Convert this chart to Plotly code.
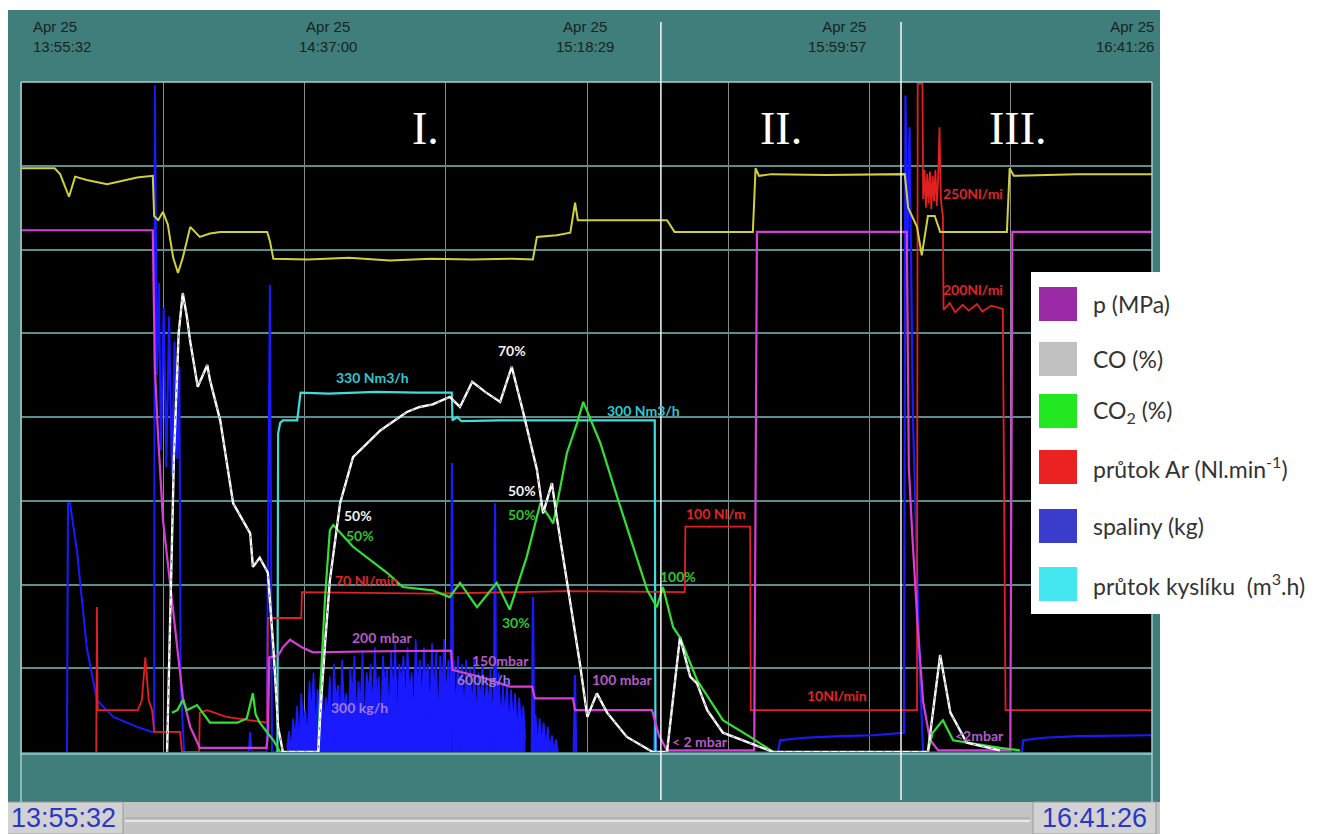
import numpy as np
import plotly.graph_objects as go

# ---------------- DATA (time in minutes since 13:55:32, value in chart divisions 0..8) ----------------
T_END = 165.9  # 13:55:32 -> 16:41:26

time_labels = ["13:55:32", "14:37:00", "15:18:29", "15:59:57", "16:41:26"]
date_label = "Apr 25"
phase_names = ["I.", "II.", "III."]
phase_t = [59.3, 111.4, 146.1]
divider_t = [93.8, 129.05]

yellow_t = [0, 4.8, 5.6, 6.9, 7.8, 9.5, 12.5, 16.9, 19.2, 19.4, 20.0, 20.7, 21.4, 22.2, 22.9, 23.6, 24.7, 25.6,
            26.1, 27.6, 29.1, 36.0, 36.4, 36.9, 42.0, 48.0, 54.0, 60.0, 66.0, 72.0, 75.0, 75.6, 78.5, 80.5, 81.2,
            81.6, 82.5, 94.7, 95.8, 107.3, 107.7, 108.2, 110.0, 118.0, 129.6, 130.1, 131.4, 132.1, 133.0, 134.0,
            134.8, 144.6, 145.0, 145.6, 155.0, 165.9]
yellow_v = [6.97, 6.97, 6.90, 6.63, 6.87, 6.83, 6.78, 6.86, 6.88, 6.40, 6.35, 6.45, 6.30, 5.90, 5.72, 5.90, 6.27,
            6.20, 6.15, 6.19, 6.21, 6.21, 6.10, 5.89, 5.88, 5.90, 5.87, 5.89, 5.88, 5.89, 5.88, 6.15, 6.17, 6.20,
            6.56, 6.35, 6.35, 6.35, 6.21, 6.21, 6.97, 6.88, 6.90, 6.89, 6.90, 6.50, 6.27, 5.93, 6.40, 6.40, 6.21,
            6.21, 6.97, 6.88, 6.90, 6.90]

p_t = [0, 19.2, 19.5, 19.97, 20.7, 22.2, 23.6, 24.7, 26.1, 35.9, 36.1, 36.3, 37.6, 38.3, 39.35, 41.1, 42.7, 50.0,
       63.0, 63.2, 68.0, 71.6, 74.9, 75.3, 80.9, 81.2, 92.5, 93.5, 94.7, 107.5, 107.9, 129.9, 130.2, 130.7, 131.5,
       132.3, 133.3, 134.5, 145.1, 145.4, 165.9]
p_v = [6.23, 6.23, 4.60, 3.79, 2.77, 1.66, 0.66, 0.30, 0.05, 0.05, 0.20, 1.13, 1.15, 1.25, 1.34, 1.25, 1.19, 1.20,
       1.21, 0.98, 0.88, 0.78, 0.78, 0.64, 0.64, 0.50, 0.50, 0.20, 0.02, 0.02, 6.21, 6.21, 3.40, 2.60, 1.50, 0.60,
       0.15, 0.02, 0.02, 6.21, 6.21]

co_t = [21.3, 21.7, 22.3, 23.0, 23.6, 24.2, 24.7, 25.8, 27.2, 27.6, 29.1, 31.0, 33.5, 33.9, 34.9, 36.1, 36.9, 37.6,
        38.3, 43.5, 43.8, 44.5, 45.2, 46.7, 48.6, 52.6, 56.5, 58.4, 60.3, 62.8, 64.3, 66.1, 68.0, 70.2, 71.9, 73.6,
        75.6, 76.5, 77.8, 78.5, 80.0, 81.9, 83.0, 84.4, 85.9, 88.8, 92.6, 94.7, 96.6, 98.1, 99.1, 100.6, 102.9,
        106.9, 110.3, 133.0, 134.8, 136.3, 138.7, 143.6]
co_v = [0.0, 1.5, 3.5, 5.0, 5.48, 5.2, 4.9, 4.36, 4.62, 4.44, 3.96, 2.97, 2.61, 2.21, 2.32, 2.14, 1.25, 0.30, 0.0,
        0.0, 0.47, 1.30, 2.05, 2.97, 3.52, 3.84, 4.06, 4.12, 4.15, 4.24, 4.12, 4.42, 4.30, 4.18, 4.60, 4.05, 3.37,
        2.85, 3.21, 2.81, 2.05, 1.06, 0.42, 0.70, 0.47, 0.18, 0.0, 0.0, 1.37, 0.90, 0.82, 0.50, 0.23, 0.11, 0.0,
        0.0, 1.16, 0.47, 0.11, 0.02]

co2_t = [22.0, 22.8, 23.6, 24.2, 25.7, 27.6, 31.6, 33.0, 33.9, 34.3, 34.9, 36.9, 37.9, 43.5, 43.8, 44.5, 45.2, 45.7,
         48.6, 53.6, 55.9, 60.3, 62.8, 64.3, 66.8, 69.7, 71.6, 74.1, 76.1, 78.0, 80.0, 81.5, 82.4, 84.9, 87.4, 89.7,
         91.8, 93.2, 94.1, 95.6, 96.6, 99.1, 102.9, 106.9, 110.3, 133.0, 133.7, 135.2, 136.7, 143.6, 146.5]
co2_v = [0.47, 0.50, 0.62, 0.50, 0.56, 0.35, 0.35, 0.40, 0.70, 0.45, 0.35, 0.14, 0.0, 0.0, 0.78, 1.85, 2.65, 2.71,
         2.45, 2.14, 1.97, 1.93, 1.85, 2.02, 1.73, 2.02, 1.70, 2.33, 2.97, 2.73, 3.57, 3.93, 4.18, 3.69, 3.04, 2.45,
         1.93, 1.73, 1.97, 1.49, 1.37, 0.86, 0.38, 0.18, 0.0, 0.0, 0.23, 0.38, 0.14, 0.05, 0.02]

ar_t = [10.9, 11.0, 11.1, 17.0, 17.6, 18.1, 18.6, 19.1, 19.4, 23.2, 23.5, 26.0, 26.1, 27.2, 30.0, 36.0, 36.1, 41.0,
        41.1, 60.0, 80.0, 97.3, 97.4, 106.9, 107.0, 131.4, 131.5, 132.2,
        132.3, 132.5, 132.7, 132.9, 133.1, 133.3, 133.5, 133.7, 133.9, 134.1, 134.3, 134.5, 134.7, 134.9, 135.1,
        135.2, 135.3, 136.2, 137.0, 138.1, 139.0, 140.2, 141.0, 142.3, 144.0, 144.4, 165.9]
ar_v = [0.0, 1.73, 0.50, 0.50, 0.62, 1.13, 0.62, 0.50, 0.24, 0.24, 0.0, 0.0, 0.47, 0.50, 0.42, 0.35, 1.60, 1.60,
        1.91, 1.89, 1.92, 1.91, 2.69, 2.69, 0.50, 0.50, 7.98, 7.98,
        6.60, 6.95, 6.50, 6.90, 6.55, 6.93, 6.48, 6.88, 6.58, 6.95, 6.52, 6.85, 7.46, 6.60, 6.45,
        6.40, 5.28, 5.36, 5.25, 5.34, 5.27, 5.35, 5.26, 5.33, 5.29, 0.50, 0.50]

spal_t = [6.6, 6.75, 7.05, 8.1, 9.5, 11.0, 13.4, 16.9, 19.1, 19.4, 19.5, 19.8, 20.1, 20.4, 20.8, 21.2, 21.6, 22.0,
          22.4, 22.8, 23.1, 23.3, 23.8, 33.3, 33.5, 33.7, 35.9, 36.4, 36.7, 38.5]
spal_v = [0.0, 2.97, 2.97, 2.38, 1.25, 0.62, 0.42, 0.30, 0.24, 0.24, 7.96, 4.5, 5.6, 3.6, 5.3, 3.4, 5.2, 3.3, 4.9,
          3.5, 4.6, 0.8, 0.0, 0.0, 0.24, 0.0, 0.0, 5.58, 0.0, 0.0]
spal_late_t = [94.0, 111.0, 111.3, 115.0, 120.0, 125.0, 129.5, 129.7, 130.0, 130.3, 130.8, 131.3, 131.8, 132.3,
               146.8, 147.0, 150.0, 155.0, 165.9]
spal_late_v = [0.0, 0.0, 0.14, 0.17, 0.19, 0.20, 0.23, 7.84, 6.0, 7.46, 4.0, 2.5, 1.0, 0.0, 0.0, 0.14, 0.17, 0.19,
               0.20]
# dense sampled flue-gas signal ("300 kg/h", "600kg/h" and tail), sampled every 0.3 min
band1_start, band2_start, band3_start, band_step = 38.9, 63.4, 74.8, 0.3
band1_v = [0.05, 0.25, 0.0, 0.40, 0.15, 0.55, 0.05, 0.70, 0.30, 0.50,
           0.10, 0.85, 0.40, 0.95, 0.20, 0.75, 0.55, 1.00, 0.25, 0.65,
           0.45, 0.90, 0.10, 1.05, 0.60, 0.80, 0.35, 1.10, 0.50, 0.70,
           0.20, 1.00, 0.65, 1.15, 0.30, 0.85, 0.55, 1.20, 0.15, 0.95,
           0.70, 1.05, 0.40, 1.25, 0.60, 0.90, 0.25, 1.15, 0.75, 1.00,
           0.35, 1.20, 0.55, 1.30, 0.20, 1.05, 0.80, 1.15, 0.45, 1.25,
           0.65, 0.95, 0.30, 1.35, 0.70, 1.10, 0.50, 1.25, 0.85, 1.05,
           0.40, 1.30, 0.60, 1.20, 0.25, 1.15, 0.75, 1.35, 0.55, 1.10, 0.45]
band2_v = [1.10, 0.40, 1.15, 0.55, 1.05, 0.35, 1.10, 0.60, 1.00, 0.45, 1.10, 0.30, 0.95, 0.55, 1.05, 0.40, 0.90,
           0.50, 1.00, 0.35, 0.85, 0.45, 0.95, 0.30, 0.80, 0.40, 0.85, 0.25, 0.75, 0.35, 0.70, 0.20, 0.65, 0.30,
           0.55, 0.15]
band3_v = [0.50, 0.10, 0.45, 0.05, 0.40, 0.10, 0.35, 0.05, 0.30, 0.02, 0.20, 0.02, 0.15, 0.0]
spike_t = [63.13, 69.44, 75.02, 81.18, 92.93]
spike_h = [3.45, 2.97, 1.85, 0.92, 0.47]

ox_t = [37.5, 37.6, 37.9, 38.3, 40.4, 40.9, 45.0, 52.0, 58.0, 63.1, 63.2, 63.9, 64.5, 70.0, 80.0, 92.9, 93.0]
ox_v = [0.0, 3.80, 3.93, 3.96, 3.96, 4.29, 4.28, 4.30, 4.29, 4.29, 3.96, 4.00, 3.95, 3.96, 3.96, 3.96, 0.0]

# value labels: text, t, value, colour key
note_text = ["330 Nm3/h", "300 Nm3/h", "70%", "50%", "50%", "50%", "50%", "70 Nl/min", "30%", "100%",
             "100 Nl/m", "200 mbar", "150mbar", "600kg/h", "300 kg/h", "100 mbar", "< 2 mbar", "10Nl/min",
             "250Nl/mi", "200Nl/mi", "<2mbar"]
note_t = [51.5, 91.2, 71.9, 49.3, 49.6, 73.4, 73.4, 50.6, 72.5, 96.3, 101.9, 52.9, 70.2, 67.8, 49.5, 88.1, 99.5,
          119.7, 139.6, 139.6, 140.6]
note_v = [4.47, 4.08, 4.80, 2.82, 2.58, 3.12, 2.84, 2.05, 1.55, 2.09, 2.85, 1.37, 1.09, 0.86, 0.53, 0.86, 0.12,
          0.68, 6.67, 5.52, 0.20]
note_kind = ["ox", "ox", "co", "co", "co2", "co", "co2", "ar", "co2", "co2", "ar", "p", "p", "kg", "kg", "p", "p",
             "ar", "ar", "ar", "p"]

legend_names = ["p (MPa)", "CO (%)", "CO<sub>2</sub> (%)", "průtok Ar (Nl.min<sup>-1</sup>)", "spaliny (kg)",
                "průtok kyslíku  (m<sup>3</sup>.h)"]
legend_colors = ["#9a2aa6", "#c0c0c0", "#22e822", "#ea2222", "#3a3ccc", "#44e6f0"]

# ---------------- STYLE ----------------
C = dict(p="#d63fd6", co="#ffffff", co2="#33e033", ar="#e22020", kg="#1a1aff", ox="#3fdcdc", yel="#d0d03c")
NOTE_C = dict(ox="#2cc8d2", co="#f2f2f2", co2="#2fc52f", ar="#e02424", p="#b45cc4", kg="#9d7ae0")
TEAL = "#3f7e7b"

# the page body adds an 8 px offset; the plot area sits at page pixels 22..1152 x 82..752
def pxp(x):
    return (x - 22) / 1130.0

def pyp(y):
    return (752 - y) / 670.0

fig = go.Figure()

def line(t, v, color, width=2.0, dash=None, name=None, fill=None):
    fig.add_trace(go.Scatter(x=t, y=v, mode="lines", name=name, showlegend=False, hoverinfo="skip",
                             fill=fill, fillcolor=color if fill else None,
                             line=dict(color=color, width=width, dash=dash)))

# flue gas (blue)
line(spal_t, spal_v, C["kg"], 2)
for start, vals in [(band1_start, band1_v), (band2_start, band2_v), (band3_start, band3_v)]:
    tt = start + band_step * np.arange(len(vals))
    line(tt, vals, C["kg"], 1.6, fill="tozeroy")
sx, sy = [], []
for t, h in zip(spike_t, spike_h):
    sx += [t - 0.18, t, t + 0.18, None]
    sy += [0, h, 0, None]
line(sx, sy, C["kg"], 2.2)
line(spal_late_t, spal_late_v, C["kg"], 2.2, name="spaliny (kg)")

line(ox_t, ox_v, C["ox"], 2.2, name="průtok kyslíku")
line(ar_t, ar_v, C["ar"], 1.8, name="průtok Ar")
line(p_t, p_v, C["p"], 2.2, name="p (MPa)")
line(co2_t, co2_v, C["co2"], 2.2, name="CO2 (%)")
line(co_t, co_v, C["co"], 2.4, name="CO (%)")
line(co_t, co_v, "#8a8a8a", 1.0, dash="3px,6px")
line(yellow_t, yellow_v, C["yel"], 2.0)

shapes = []
# teal frame
shapes.append(dict(type="rect", xref="paper", yref="paper", x0=pxp(7), x1=pxp(1160), y0=pyp(802), y1=pyp(10),
                   fillcolor=TEAL, line=dict(width=0), layer="below"))
# black plot area
shapes.append(dict(type="rect", xref="paper", yref="paper", x0=0, x1=1, y0=0, y1=1,
                   fillcolor="black", line=dict(width=0), layer="below"))
# scrollbar
shapes.append(dict(type="rect", xref="paper", yref="paper", x0=pxp(0), x1=pxp(1160), y0=pyp(834), y1=pyp(802),
                   fillcolor="#c4c4c4", line=dict(width=0), layer="below"))
shapes.append(dict(type="line", xref="paper", yref="paper", x0=pxp(125), x1=pxp(1030), y0=pyp(818), y1=pyp(818),
                   line=dict(color="#a6a6a6", width=1), layer="below"))
shapes.append(dict(type="line", xref="paper", yref="paper", x0=pxp(125), x1=pxp(1030), y0=pyp(821), y1=pyp(821),
                   line=dict(color="#e8e8e8", width=2), layer="below"))
shapes.append(dict(type="rect", xref="paper", yref="paper", x0=pxp(0), x1=pxp(123), y0=pyp(834), y1=pyp(802),
                   fillcolor="#d2d2d2", line=dict(color="#9a9a9a", width=1), layer="below"))
shapes.append(dict(type="rect", xref="paper", yref="paper", x0=pxp(1033), x1=pxp(1156), y0=pyp(834), y1=pyp(802),
                   fillcolor="#d2d2d2", line=dict(color="#9a9a9a", width=1), layer="below"))
# light borders
for (x0, y0, x1, y1) in [(21, 82, 1152, 82), (21, 754, 1152, 754), (21, 82, 21, 802), (1152, 82, 1152, 802)]:
    shapes.append(dict(type="line", xref="paper", yref="paper", x0=pxp(x0), x1=pxp(x1), y0=pyp(y0), y1=pyp(y1),
                       line=dict(color="#a8cccc", width=1.5), layer="above"))
# white phase dividers
for t in divider_t:
    shapes.append(dict(type="line", xref="x", yref="paper", x0=t, x1=t, y0=pyp(800), y1=pyp(22),
                       line=dict(color="#f4f8f8", width=1.5), layer="above"))
# legend box
shapes.append(dict(type="rect", xref="paper", yref="paper", x0=pxp(1031), x1=pxp(1327), y0=pyp(614), y1=pyp(272),
                   fillcolor="white", line=dict(width=0), layer="above"))
leg_rows = [304, 359, 411, 467, 526, 584]
for yc, col in zip(leg_rows, legend_colors):
    shapes.append(dict(type="rect", xref="paper", yref="paper", x0=pxp(1039), x1=pxp(1077), y0=pyp(yc + 17),
                       y1=pyp(yc - 17), fillcolor=col, line=dict(width=0), layer="above"))

ann = []
# header time labels
hdr_x = [31, 328, 585, 868, 1156]
hdr_anchor = ["left", "center", "center", "right", "right"]
for lab, x, anc in zip(time_labels, hdr_x, hdr_anchor):
    ann.append(dict(xref="paper", yref="paper", x=pxp(x), y=pyp(37), text=f"{date_label}<br>{lab}",
                    showarrow=False, xanchor=anc, yanchor="middle", align=anc,
                    font=dict(family="Liberation Sans Narrow, Liberation Sans, Arial", size=15, color="#172424")))
# scrollbar end labels
for lab, x in [(time_labels[0], 63), (time_labels[-1], 1094)]:
    ann.append(dict(xref="paper", yref="paper", x=pxp(x), y=pyp(818), text=lab, showarrow=False,
                    xanchor="center", yanchor="middle",
                    font=dict(family="Liberation Sans, Arial", size=27, color="#2b38c6")))
# phase numerals
for name, t in zip(phase_names, phase_t):
    ann.append(dict(xref="x", yref="y", x=t, y=7.45, text=name, showarrow=False, xanchor="center",
                    yanchor="middle", font=dict(family="Liberation Serif, Times New Roman", size=46,
                                                color="white")))
# value notes
for txt, t, v, k in zip(note_text, note_t, note_v, note_kind):
    ann.append(dict(xref="x", yref="y", x=t, y=v, text=txt, showarrow=False, xanchor="center", yanchor="middle",
                    font=dict(family="Lato, Open Sans, sans-serif", size=14, color=NOTE_C[k], weight="bold")))
# legend text
for yc, name in zip(leg_rows, legend_names):
    ann.append(dict(xref="paper", yref="paper", x=pxp(1091), y=pyp(yc), text=name, showarrow=False,
                    xanchor="left", yanchor="middle",
                    font=dict(family="Lato, Open Sans, sans-serif", size=23, color="#333333")))

fig.update_layout(
    width=1322, height=826,
    margin=dict(l=14, r=178, t=74, b=82),
    paper_bgcolor="white", plot_bgcolor="black",
    showlegend=False,
    shapes=shapes, annotations=ann,
    xaxis=dict(range=[0, T_END], tick0=0, dtick=T_END / 8, showgrid=True, gridcolor="#8a8a8a", gridwidth=1,
               showticklabels=False, zeroline=False, showline=False, ticks="", fixedrange=True),
    yaxis=dict(range=[0, 8], tick0=0, dtick=1, showgrid=True, gridcolor="#5b8d8d", gridwidth=1.5,
               showticklabels=False, zeroline=False, showline=False, ticks="", fixedrange=True),
)

fig.write_html("out.html")
